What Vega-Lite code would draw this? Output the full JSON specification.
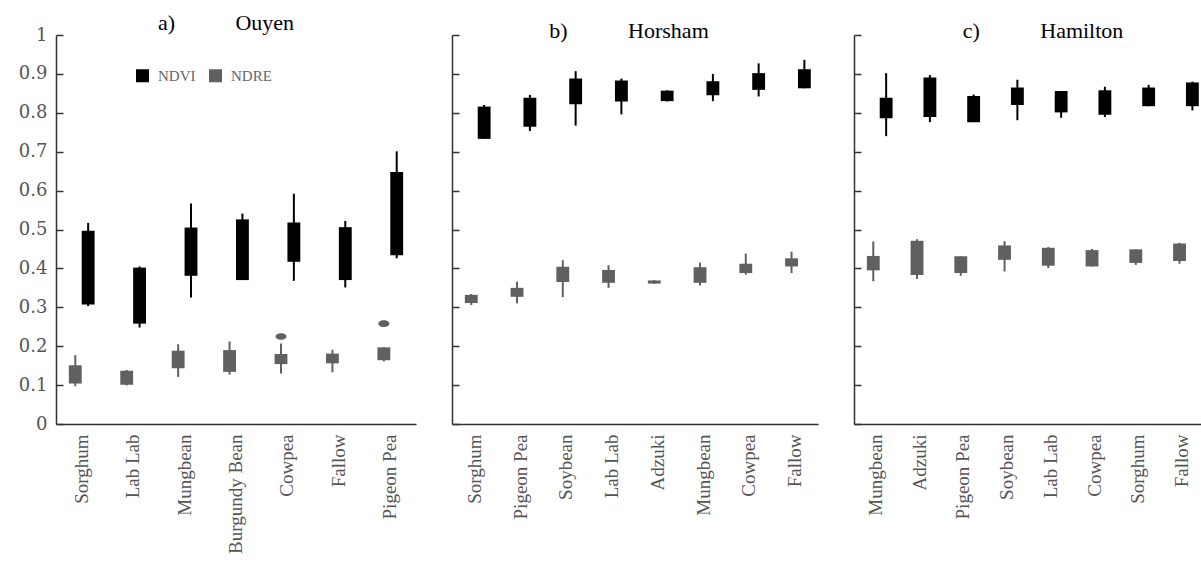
{
  "$schema": "https://vega.github.io/schema/vega-lite/v6.json",
  "padding": {"left": 18, "top": 12, "right": 0, "bottom": 0},
  "background": "white",
  "config": {
    "font": "Liberation Serif",
    "view": {"stroke": null},
    "axis": {"grid": false, "domainColor": "#333333", "domainWidth": 1.5, "tickColor": "#333333", "tickWidth": 1.5, "labelFont": "Liberation Serif", "labelColor": "#555555", "labelFontSize": 20, "title": null, "labelOverlap": false},
    "axisY": {"values": [0, 0.1, 0.2, 0.3, 0.4, 0.5, 0.6, 0.7, 0.8, 0.9, 1], "tickSize": -7, "labelPadding": 16, "format": "~g", "labelFont": "DejaVu Serif", "labelFontSize": 18},
    "axisX": {"labelAngle": -90, "ticks": false, "labelPadding": 10, "labelFontSize": 19},
    "title": {"font": "Liberation Serif", "fontSize": 22, "fontWeight": "normal", "color": "#000000", "frame": "group"}
  },
  "datasets": {
    "box": [
      {"site": "Ouyen", "crop": "Sorghum", "idx": "NDVI", "lo": 0.303, "q1": 0.307, "q3": 0.497, "hi": 0.517},
      {"site": "Ouyen", "crop": "Sorghum", "idx": "NDRE", "lo": 0.097, "q1": 0.104, "q3": 0.151, "hi": 0.177},
      {"site": "Ouyen", "crop": "Lab Lab", "idx": "NDVI", "lo": 0.248, "q1": 0.258, "q3": 0.402, "hi": 0.405},
      {"site": "Ouyen", "crop": "Lab Lab", "idx": "NDRE", "lo": 0.099, "q1": 0.101, "q3": 0.137, "hi": 0.139},
      {"site": "Ouyen", "crop": "Mungbean", "idx": "NDVI", "lo": 0.325, "q1": 0.381, "q3": 0.505, "hi": 0.567},
      {"site": "Ouyen", "crop": "Mungbean", "idx": "NDRE", "lo": 0.121, "q1": 0.143, "q3": 0.188, "hi": 0.205},
      {"site": "Ouyen", "crop": "Burgundy Bean", "idx": "NDVI", "lo": 0.37, "q1": 0.37, "q3": 0.526, "hi": 0.541},
      {"site": "Ouyen", "crop": "Burgundy Bean", "idx": "NDRE", "lo": 0.127, "q1": 0.134, "q3": 0.19, "hi": 0.212},
      {"site": "Ouyen", "crop": "Cowpea", "idx": "NDVI", "lo": 0.368, "q1": 0.417, "q3": 0.518, "hi": 0.592},
      {"site": "Ouyen", "crop": "Cowpea", "idx": "NDRE", "lo": 0.13, "q1": 0.154, "q3": 0.18, "hi": 0.207},
      {"site": "Ouyen", "crop": "Fallow", "idx": "NDVI", "lo": 0.351, "q1": 0.37, "q3": 0.506, "hi": 0.522},
      {"site": "Ouyen", "crop": "Fallow", "idx": "NDRE", "lo": 0.133, "q1": 0.156, "q3": 0.181, "hi": 0.191},
      {"site": "Ouyen", "crop": "Pigeon Pea", "idx": "NDVI", "lo": 0.426, "q1": 0.434, "q3": 0.648, "hi": 0.701},
      {"site": "Ouyen", "crop": "Pigeon Pea", "idx": "NDRE", "lo": 0.161, "q1": 0.164, "q3": 0.197, "hi": 0.197},
      {"site": "Horsham", "crop": "Sorghum", "idx": "NDVI", "lo": 0.733, "q1": 0.733, "q3": 0.816, "hi": 0.82},
      {"site": "Horsham", "crop": "Sorghum", "idx": "NDRE", "lo": 0.306, "q1": 0.311, "q3": 0.332, "hi": 0.334},
      {"site": "Horsham", "crop": "Pigeon Pea", "idx": "NDVI", "lo": 0.753, "q1": 0.764, "q3": 0.839, "hi": 0.846},
      {"site": "Horsham", "crop": "Pigeon Pea", "idx": "NDRE", "lo": 0.31, "q1": 0.327, "q3": 0.35, "hi": 0.366},
      {"site": "Horsham", "crop": "Soybean", "idx": "NDVI", "lo": 0.767, "q1": 0.822, "q3": 0.888, "hi": 0.907},
      {"site": "Horsham", "crop": "Soybean", "idx": "NDRE", "lo": 0.326, "q1": 0.365, "q3": 0.404, "hi": 0.421},
      {"site": "Horsham", "crop": "Lab Lab", "idx": "NDVI", "lo": 0.796, "q1": 0.829, "q3": 0.883, "hi": 0.888},
      {"site": "Horsham", "crop": "Lab Lab", "idx": "NDRE", "lo": 0.35, "q1": 0.363, "q3": 0.396, "hi": 0.408},
      {"site": "Horsham", "crop": "Adzuki", "idx": "NDVI", "lo": 0.829, "q1": 0.83, "q3": 0.857, "hi": 0.858},
      {"site": "Horsham", "crop": "Adzuki", "idx": "NDRE", "lo": 0.36, "q1": 0.361, "q3": 0.369, "hi": 0.37},
      {"site": "Horsham", "crop": "Mungbean", "idx": "NDVI", "lo": 0.83, "q1": 0.845, "q3": 0.881, "hi": 0.9},
      {"site": "Horsham", "crop": "Mungbean", "idx": "NDRE", "lo": 0.356, "q1": 0.363, "q3": 0.403, "hi": 0.415},
      {"site": "Horsham", "crop": "Cowpea", "idx": "NDVI", "lo": 0.842, "q1": 0.859, "q3": 0.902, "hi": 0.927},
      {"site": "Horsham", "crop": "Cowpea", "idx": "NDRE", "lo": 0.384, "q1": 0.388, "q3": 0.412, "hi": 0.438},
      {"site": "Horsham", "crop": "Fallow", "idx": "NDVI", "lo": 0.863, "q1": 0.863, "q3": 0.912, "hi": 0.936},
      {"site": "Horsham", "crop": "Fallow", "idx": "NDRE", "lo": 0.388, "q1": 0.405, "q3": 0.426, "hi": 0.443},
      {"site": "Hamilton", "crop": "Mungbean", "idx": "NDVI", "lo": 0.74, "q1": 0.786, "q3": 0.839, "hi": 0.902},
      {"site": "Hamilton", "crop": "Mungbean", "idx": "NDRE", "lo": 0.367, "q1": 0.395, "q3": 0.432, "hi": 0.469},
      {"site": "Hamilton", "crop": "Adzuki", "idx": "NDVI", "lo": 0.776, "q1": 0.789, "q3": 0.891, "hi": 0.897},
      {"site": "Hamilton", "crop": "Adzuki", "idx": "NDRE", "lo": 0.373, "q1": 0.383, "q3": 0.471, "hi": 0.475},
      {"site": "Hamilton", "crop": "Pigeon Pea", "idx": "NDVI", "lo": 0.776, "q1": 0.776, "q3": 0.843, "hi": 0.847},
      {"site": "Hamilton", "crop": "Pigeon Pea", "idx": "NDRE", "lo": 0.381, "q1": 0.388, "q3": 0.431, "hi": 0.431},
      {"site": "Hamilton", "crop": "Soybean", "idx": "NDVI", "lo": 0.781, "q1": 0.82, "q3": 0.865, "hi": 0.885},
      {"site": "Hamilton", "crop": "Soybean", "idx": "NDRE", "lo": 0.392, "q1": 0.422, "q3": 0.459, "hi": 0.47},
      {"site": "Hamilton", "crop": "Lab Lab", "idx": "NDVI", "lo": 0.787, "q1": 0.801, "q3": 0.856, "hi": 0.856},
      {"site": "Hamilton", "crop": "Lab Lab", "idx": "NDRE", "lo": 0.401, "q1": 0.407, "q3": 0.453, "hi": 0.455},
      {"site": "Hamilton", "crop": "Cowpea", "idx": "NDVI", "lo": 0.789, "q1": 0.795, "q3": 0.858, "hi": 0.867},
      {"site": "Hamilton", "crop": "Cowpea", "idx": "NDRE", "lo": 0.405, "q1": 0.405, "q3": 0.447, "hi": 0.45},
      {"site": "Hamilton", "crop": "Sorghum", "idx": "NDVI", "lo": 0.817, "q1": 0.817, "q3": 0.865, "hi": 0.872},
      {"site": "Hamilton", "crop": "Sorghum", "idx": "NDRE", "lo": 0.409, "q1": 0.414, "q3": 0.449, "hi": 0.449},
      {"site": "Hamilton", "crop": "Fallow", "idx": "NDVI", "lo": 0.806, "q1": 0.817, "q3": 0.878, "hi": 0.88},
      {"site": "Hamilton", "crop": "Fallow", "idx": "NDRE", "lo": 0.412, "q1": 0.419, "q3": 0.464, "hi": 0.466}
    ],
    "out": [
      {"site": "Ouyen", "crop": "Cowpea", "idx": "NDRE", "v": 0.225},
      {"site": "Ouyen", "crop": "Pigeon Pea", "idx": "NDRE", "v": 0.258}
    ]
  },
  "spacing": 35,
  "resolve": {"scale": {"color": "shared"}},
  "hconcat": [
    {
      "title": {"text": "a)\u00a0\u00a0\u00a0\u00a0\u00a0\u00a0\u00a0\u00a0\u00a0\u00a0\u00a0Ouyen", "dx": -10, "offset": -9, "fontWeight": "normal", "orient": "top", "frame": "group"},
      "width": 360,
      "height": 389,
      "data": {"name": "box"},
      "transform": [{"filter": "datum.site === 'Ouyen'"}],
      "encoding": {
        "x": {"field": "crop", "type": "nominal", "sort": ["Sorghum", "Lab Lab", "Mungbean", "Burgundy Bean", "Cowpea", "Fallow", "Pigeon Pea"], "scale": {"paddingInner": 0, "paddingOuter": 0}},
        "xOffset": {"field": "idx", "type": "nominal", "sort": ["NDRE", "NDVI"], "scale": {"paddingInner": 0, "paddingOuter": 1.55}},
        "color": {"field": "idx", "type": "nominal", "scale": {"domain": ["NDVI", "NDRE"], "range": ["#000000", "#606060"]}, "legend": {"orient": "none", "legendX": 79, "legendY": 33, "direction": "horizontal", "title": null, "symbolType": "square", "symbolSize": 169, "symbolOpacity": 1, "symbolStrokeWidth": 0, "labelFontSize": 15, "labelColor": "#666666", "labelFont": "Liberation Serif", "columnPadding": 12, "labelOffset": 8}}
      },
      "layer": [
        {
          "mark": {"type": "rule", "strokeWidth": 2},
          "encoding": {
            "y": {"field": "lo", "type": "quantitative", "scale": {"domain": [0, 1]}},
            "y2": {"field": "hi"}
          }
        },
        {
          "mark": {"type": "bar"},
          "encoding": {
            "y": {"field": "q1", "type": "quantitative"},
            "y2": {"field": "q3"}
          }
        },
        {
          "data": {"name": "out"},
          "transform": [],
          "mark": {"type": "point", "filled": true, "opacity": 1, "shape": "M -1 0 A 1 0.6 0 1 1 1 0 A 1 0.6 0 1 1 -1 0 Z", "size": 121},
          "encoding": {
            "y": {"field": "v", "type": "quantitative"}
          }
        }
      ]
    },
    {
      "title": {"text": "b)\u00a0\u00a0\u00a0\u00a0\u00a0\u00a0\u00a0\u00a0\u00a0\u00a0\u00a0Horsham", "dx": -6, "offset": -9, "fontWeight": "normal", "orient": "top", "frame": "group"},
      "width": 366,
      "height": 389,
      "data": {"name": "box"},
      "transform": [{"filter": "datum.site === 'Horsham'"}],
      "encoding": {
        "x": {"field": "crop", "type": "nominal", "sort": ["Sorghum", "Pigeon Pea", "Soybean", "Lab Lab", "Adzuki", "Mungbean", "Cowpea", "Fallow"], "scale": {"paddingInner": 0, "paddingOuter": 0}},
        "xOffset": {"field": "idx", "type": "nominal", "sort": ["NDRE", "NDVI"], "scale": {"paddingInner": 0, "paddingOuter": 1.55}},
        "color": {"field": "idx", "type": "nominal", "legend": null}
      },
      "layer": [
        {
          "mark": {"type": "rule", "strokeWidth": 2},
          "encoding": {
            "y": {"field": "lo", "type": "quantitative", "scale": {"domain": [0, 1]}, "axis": {"labels": false}},
            "y2": {"field": "hi"}
          }
        },
        {
          "mark": {"type": "bar"},
          "encoding": {
            "y": {"field": "q1", "type": "quantitative", "axis": {"labels": false}},
            "y2": {"field": "q3"}
          }
        }
      ]
    },
    {
      "title": {"text": "c)\u00a0\u00a0\u00a0\u00a0\u00a0\u00a0\u00a0\u00a0\u00a0\u00a0\u00a0Hamilton", "dx": 14, "offset": -9, "fontWeight": "normal", "orient": "top", "frame": "group"},
      "width": 350,
      "height": 389,
      "data": {"name": "box"},
      "transform": [{"filter": "datum.site === 'Hamilton'"}],
      "encoding": {
        "x": {"field": "crop", "type": "nominal", "sort": ["Mungbean", "Adzuki", "Pigeon Pea", "Soybean", "Lab Lab", "Cowpea", "Sorghum", "Fallow"], "scale": {"paddingInner": 0, "paddingOuter": 0}},
        "xOffset": {"field": "idx", "type": "nominal", "sort": ["NDRE", "NDVI"], "scale": {"paddingInner": 0, "paddingOuter": 1.55}},
        "color": {"field": "idx", "type": "nominal", "legend": null}
      },
      "layer": [
        {
          "mark": {"type": "rule", "strokeWidth": 2},
          "encoding": {
            "y": {"field": "lo", "type": "quantitative", "scale": {"domain": [0, 1]}, "axis": {"labels": false}},
            "y2": {"field": "hi"}
          }
        },
        {
          "mark": {"type": "bar"},
          "encoding": {
            "y": {"field": "q1", "type": "quantitative", "axis": {"labels": false}},
            "y2": {"field": "q3"}
          }
        }
      ]
    }
  ]
}
